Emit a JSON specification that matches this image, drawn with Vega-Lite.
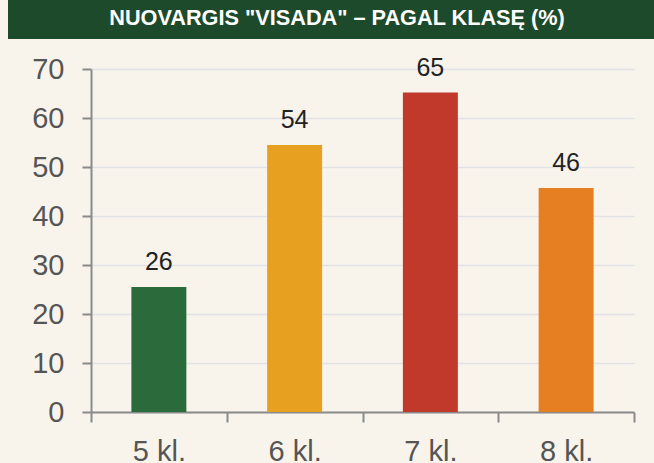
{
  "$schema": "https://vega.github.io/schema/vega-lite/v6.json",
  "background": "#f8f4ec",
  "padding": {"left": 8, "top": 0, "right": 0, "bottom": 0},
  "config": {"font": "Liberation Sans", "view": {"stroke": null}},
  "spacing": 16,
  "vconcat": [
    {
      "width": 646,
      "height": 39,
      "view": {"fill": "#1d4a2a", "stroke": null},
      "data": {"values": [{"t": "NUOVARGIS \"VISADA\" – PAGAL KLASĘ (%)"}]},
      "mark": {"type": "text", "font": "Liberation Sans", "fontWeight": "bold", "fontSize": 21.7, "color": "#ffffff", "dx": 6, "dy": -2, "baseline": "middle", "align": "center"},
      "encoding": {"text": {"field": "t"}}
    },
    {
      "spacing": 22,
      "hconcat": [
        {
          "width": 1,
          "height": 10,
          "data": {"values": []},
          "mark": {"type": "point", "opacity": 0}
        },
        {
          "width": 543,
          "height": 343,
          "data": {"values": [
            {"klase": "5 kl.", "value": 25.5, "label": 26},
            {"klase": "6 kl.", "value": 54.5, "label": 54},
            {"klase": "7 kl.", "value": 65.2, "label": 65},
            {"klase": "8 kl.", "value": 45.7, "label": 46}
          ]},
          "encoding": {
            "x": {"field": "klase", "type": "nominal", "sort": null,
              "scale": {"paddingInner": 0, "paddingOuter": 0},
              "axis": {"title": null, "labelAngle": 0, "tickBand": "extent", "tickSize": 10, "tickWidth": 2, "tickColor": "#8a8a8a", "domainColor": "#8a8a8a", "domainWidth": 2, "labelFontSize": 29, "labelColor": "#555555", "labelPadding": 15, "grid": false}},
            "y": {"field": "value", "type": "quantitative",
              "scale": {"domain": [0, 70], "nice": false},
              "axis": {"title": null, "values": [0, 10, 20, 30, 40, 50, 60, 70], "grid": true, "gridColor": "#e2e2e6", "gridWidth": 1.5, "tickSize": 9, "tickWidth": 2, "tickColor": "#8a8a8a", "domainColor": "#8a8a8a", "domainWidth": 2, "labelFontSize": 29, "labelColor": "#555555", "labelPadding": 18}}
          },
          "layer": [
            {
              "mark": {"type": "bar", "width": {"band": 0.405}},
              "encoding": {
                "color": {"field": "klase", "type": "nominal", "sort": null, "legend": null,
                  "scale": {"domain": ["5 kl.", "6 kl.", "7 kl.", "8 kl."], "range": ["#2a6a3b", "#e8a020", "#c0392b", "#e67e22"]}}
              }
            },
            {
              "mark": {"type": "text", "fontSize": 25, "baseline": "alphabetic", "dy": -17, "color": "#222222"},
              "encoding": {"text": {"field": "label", "type": "quantitative"}}
            }
          ]
        }
      ]
    }
  ]
}
